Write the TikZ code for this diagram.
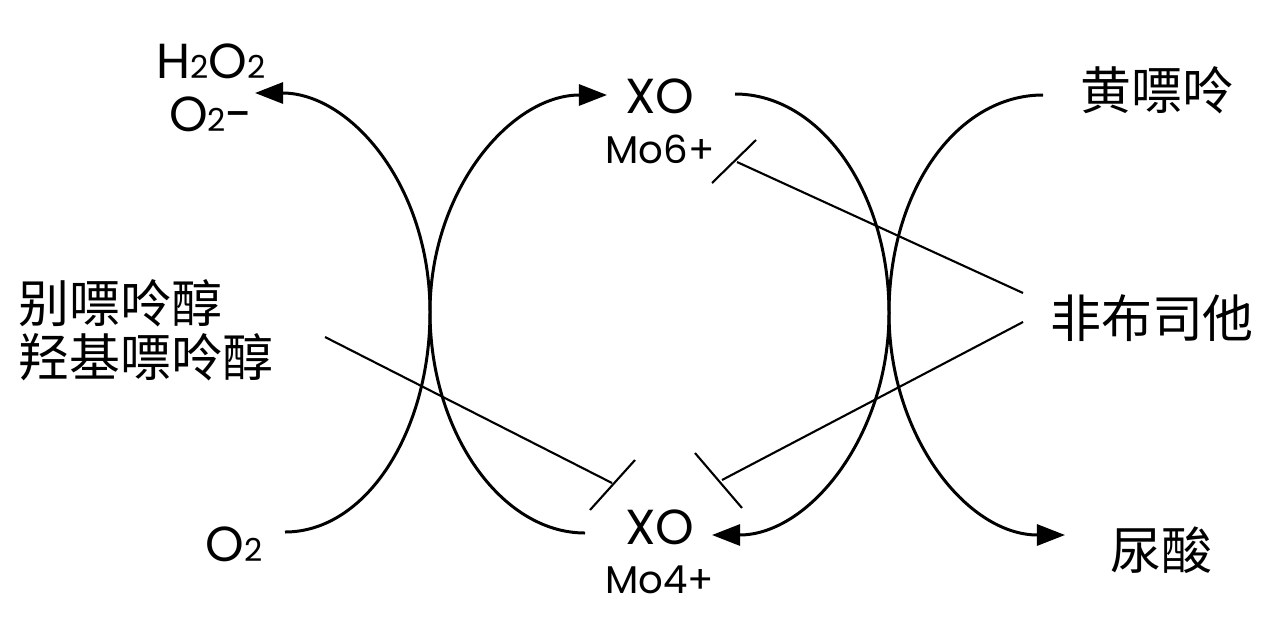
\documentclass[tikz,border=0pt]{standalone}
\usepackage{fontspec}
\setmainfont{Poppins}
\newfontfamily\cjk{Noto Sans CJK SC}
\usetikzlibrary{arrows.meta,calc}

\newcommand{\smallidx}[1]{{\fontsize{18}{18}\selectfont #1}}

\tikzset{
	lbl/.style={inner sep=0pt, font=\fontsize{28}{30}\selectfont},
	mo/.style={inner sep=0pt, font=\fontsize{22}{24}\selectfont},
	zh/.style={inner sep=0pt, font=\cjk\fontsize{29}{31}\selectfont},
	reac/.style={line width=1.7pt, -{Triangle[length=16pt,width=12pt]}},
	inhib/.style={line width=1.2pt}
}

\begin{document}
\begin{tikzpicture}[x=0.02cm,y=-0.02cm]

	\useasboundingbox (0,0) rectangle (1280,616);

	% Etiquetes
	\node[lbl,align=center] (h2o2) at (211,88) {H\smallidx{2}O\smallidx{2}\\O\smallidx{2}-};
	\node[lbl] (xotop) at (660,96) {XO};
	\node[mo] (motop) at (660,149) {Mo6+};
	\node[lbl] (xobot) at (660,527) {XO};
	\node[mo] (mobot) at (660,580) {Mo4+};
	\node[lbl] (o2) at (234,544) {O\smallidx{2}};
	\node[zh] (huang) at (1157,90) {黄嘌呤};
	\node[zh] (feb) at (1152,318) {非布司他};
	\node[zh,align=left,anchor=west] (allo) at (18,330) {别嘌呤醇\\羟基嘌呤醇};
	\node[zh] (uric) at (1161,550) {尿酸};

	% Punts
	\coordinate (o2out) at (285,532);
	\coordinate (h2o2in) at (255,93);
	\coordinate (botout) at (585,533);
	\coordinate (topin) at (607,95);
	\coordinate (topout) at (735,94);
	\coordinate (botin) at (712,535);
	\coordinate (huangout) at (1043,95);
	\coordinate (uricin) at (1065,535);

	\coordinate (alloout) at (325,337);
	\coordinate (bar1) at (612,483);
	\coordinate (febup) at (1023,293);
	\coordinate (bar2) at (737,162);
	\coordinate (feblow) at (1023,322);
	\coordinate (bar3) at (722,480);

	% Corbes
	\draw[reac] (o2out) .. controls (366,532) and (430,432) .. (430,312)
		.. controls (430,185) and (350,93) .. (h2o2in);
	\draw[reac] (botout) .. controls (501,533) and (430,432) .. (430,312)
		.. controls (430,190) and (511,95) .. (topin);
	\draw[reac] (topout) .. controls (819,94) and (889,190) .. (889,313)
		.. controls (889,436) and (809,535) .. (botin);
	\draw[reac] (huangout) .. controls (957,95) and (889,190) .. (889,313)
		.. controls (889,436) and (967,535) .. (uricin);

	% Inhibicions
	\draw[inhib] (alloout) -- (bar1);
	\draw[inhib] ($(bar1)+(-22,27)$) -- ($(bar1)+(23,-23)$);

	\draw[inhib] (febup) -- (bar2);
	\draw[inhib] ($(bar2)+(-25,21)$) -- ($(bar2)+(19,-22)$);

	\draw[inhib] (feblow) -- (bar3);
	\draw[inhib] ($(bar3)+(-27,-27)$) -- ($(bar3)+(20,28)$);

\end{tikzpicture}
\end{document}
